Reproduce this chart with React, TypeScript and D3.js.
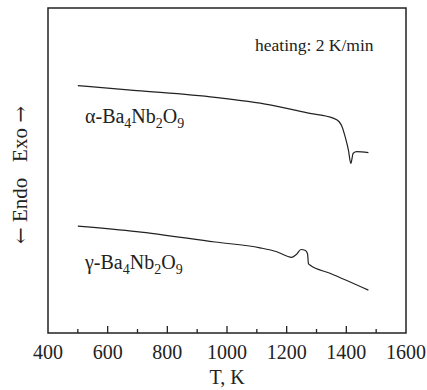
import React from "react";
import * as d3 from "d3";

// DTA traces, heating at 2 K/min. Signal in arbitrary units (exo up).
const alphaT = [500, 697, 960, 1144, 1278, 1356, 1376, 1386, 1396, 1407, 1415, 1423, 1435, 1474];
const alphaV = [76.1, 74.6, 72.5, 70.2, 67.6, 66.1, 65.0, 63.4, 60.4, 56.3, 52.2, 55.3, 55.8, 55.5];

const gammaT = [500, 697, 960, 1111, 1167, 1217, 1233, 1248, 1263, 1270, 1273, 1278, 1345, 1474];
const gammaV = [32.9, 31.2, 28.0, 26.2, 25.0, 23.3, 24.2, 25.7, 25.4, 24.3, 21.4, 20.9, 18.4, 13.2];

const xMajorTicks = [400, 600, 800, 1000, 1200, 1400, 1600];
const xMinorTicks = [500, 700, 900, 1100, 1300, 1500];

const W = 427;
const H = 390;
const M = { left: 48, right: 21, top: 8, bottom: 57 };
const FONT = "'Liberation Serif', 'Times New Roman', serif";
const ARROW_FONT = "'DejaVu Serif', 'DejaVu Sans', serif";

export default function App() {
  const x = d3.scaleLinear().domain([400, 1600]).range([M.left, W - M.right]);
  const y = d3.scaleLinear().domain([0, 100]).range([H - M.bottom, M.top]);

  const line = d3
    .line<[number, number]>()
    .x((d) => x(d[0]))
    .y((d) => y(d[1]))
    .curve(d3.curveMonotoneX);

  const alpha = alphaT.map((t, i) => [t, alphaV[i]] as [number, number]);
  const gamma = gammaT.map((t, i) => [t, gammaV[i]] as [number, number]);

  const x0 = x(400);
  const x1 = x(1600);
  const yTop = y(100);
  const yBot = y(0);

  return (
    <svg
      width={W}
      height={H}
      style={{ position: "absolute", left: 0, top: 0, background: "#fff" }}
      fontFamily={FONT}
    >
      <rect x={x0} y={yTop} width={x1 - x0} height={yBot - yTop} fill="none" stroke="#222" strokeWidth={1.5} />

      {xMajorTicks.slice(1, -1).map((t) => (
        <line key={"M" + t} x1={x(t)} x2={x(t)} y1={yBot} y2={yBot - 7} stroke="#222" strokeWidth={1.3} />
      ))}
      {xMinorTicks.map((t) => (
        <line key={"m" + t} x1={x(t)} x2={x(t)} y1={yBot} y2={yBot - 4} stroke="#222" strokeWidth={1.3} />
      ))}
      {xMajorTicks.map((t) => (
        <text key={"l" + t} x={x(t)} y={359} fontSize={20} textAnchor="middle" fill="#222">
          {t}
        </text>
      ))}
      <text x={(x0 + x1) / 2} y={384} fontSize={20} textAnchor="middle" fill="#222">
        T, K
      </text>

      <text
        transform={`translate(27, 175) rotate(-90)`}
        fontSize={21}
        textAnchor="middle"
        fill="#222"
        style={{ whiteSpace: "pre" }}
      >
        <tspan fontFamily={ARROW_FONT} fontSize={20}>←</tspan>
        <tspan>{" Endo   Exo "}</tspan>
        <tspan fontFamily={ARROW_FONT} fontSize={20}>→</tspan>
      </text>

      <path d={line(alpha) ?? ""} fill="none" stroke="#222" strokeWidth={1.2} />
      <path d={line(gamma) ?? ""} fill="none" stroke="#222" strokeWidth={1.2} />

      <text x={255} y={51} fontSize={17.5} fill="#222">
        heating: 2 K/min
      </text>

      <text x={85} y={123} fontSize={20} fill="#222">
        α-Ba<tspan dy={5} fontSize={14}>4</tspan>
        <tspan dy={-5}>Nb</tspan>
        <tspan dy={5} fontSize={14}>2</tspan>
        <tspan dy={-5}>O</tspan>
        <tspan dy={5} fontSize={14}>9</tspan>
      </text>
      <text x={85} y={269} fontSize={20} fill="#222">
        γ-Ba<tspan dy={5} fontSize={14}>4</tspan>
        <tspan dy={-5}>Nb</tspan>
        <tspan dy={5} fontSize={14}>2</tspan>
        <tspan dy={-5}>O</tspan>
        <tspan dy={5} fontSize={14}>9</tspan>
      </text>
    </svg>
  );
}
